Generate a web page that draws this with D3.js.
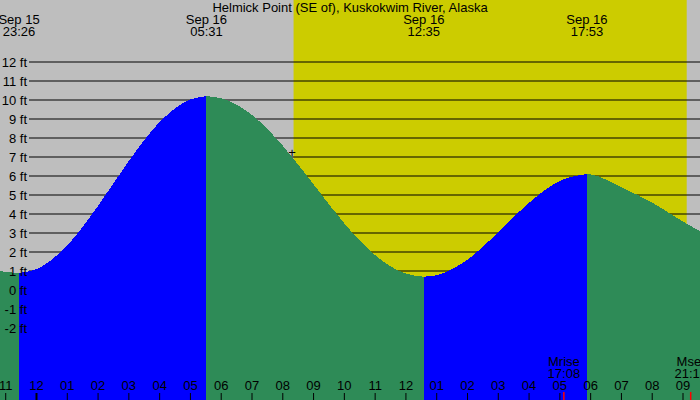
<!DOCTYPE html>
<html><head><meta charset="utf-8">
<script src="https://cdn.jsdelivr.net/npm/d3@7"></script>
<style>body{margin:0}svg{display:block;font-family:"Liberation Sans",Arial,sans-serif}</style>
</head><body><div id="chart"></div>
<script>
// hours counted from Sep 15 00:00
const title = 'Helmick Point (SE of), Kuskokwim River, Alaska';
const extremes = [
  {t: 23.43, h: 0.9, day: 'Sep 15', label: '23:26'},
  {t: 29.52, h: 10.2, day: 'Sep 16', label: '05:31'},
  {t: 36.58, h: 0.7, day: 'Sep 16', label: '12:35'},
  {t: 41.88, h: 6.1, day: 'Sep 16', label: '17:53'}
];
const tideT = [22.8, 23, 23.43, 24, 25, 26, 27, 28, 29, 29.52, 30, 31, 32, 33, 34, 35, 36, 36.58, 37, 38, 39, 40, 41, 41.88, 42, 43, 44, 45, 45.6];
const tideH = [1.0, 0.95, 0.9, 1.10, 2.35, 4.43, 6.79, 8.84, 10.03, 10.2, 10.09, 9.21, 7.59, 5.56, 3.50, 1.83, 0.86, 0.7, 0.78, 1.60, 3.04, 4.59, 5.74, 6.1, 6.08, 5.4, 4.6, 3.6, 3.05];
const sunrise = 32.35, sunset = 45.12;
const hourTicks = d3.range(23, 46);
const ftTicks = d3.range(-2, 13);
const moon = [{name: 'Mrise', t: 41.13, label: '17:08'}, {name: 'Mset', t: 45.25, label: '21:15'}];
const nowPoint = {t: 32.3, h: 7.2};

const width = 700, height = 400, fs = 13;
const x = d3.scaleLinear().domain([24, 45]).range([36.5, 683]);
const y = d3.scaleLinear().domain([0, 12]).range([290, 62]);

const svg = d3.select('#chart').append('svg').attr('width', width).attr('height', height);
svg.append('rect').attr('width', width).attr('height', height).attr('fill', '#bebebe');
svg.append('rect').attr('x', x(sunrise)).attr('y', 0)
  .attr('width', x(sunset) - x(sunrise)).attr('height', height).attr('fill', '#cccc00');

// grid lines
svg.append('g').selectAll('line').data(ftTicks).join('line')
  .attr('x1', 29).attr('x2', width).attr('y1', d => y(d)).attr('y2', d => y(d))
  .attr('stroke', '#000').attr('stroke-width', 1);

// tide areas, split at extremes: rising blue, falling green
const pts = tideT.map((t, i) => ({t, h: tideH[i]}));
const bounds = [tideT[0], ...extremes.map(e => e.t), tideT[tideT.length - 1]];
const area = d3.area().x(d => x(d.t)).y0(height).y1(d => y(d.h)).curve(d3.curveMonotoneX);
for (let i = 0; i < bounds.length - 1; i++) {
  const seg = pts.filter(p => p.t >= bounds[i] && p.t <= bounds[i + 1]);
  const rising = seg[seg.length - 1].h > seg[0].h;
  svg.append('path').datum(seg).attr('d', area)
    .attr('fill', rising ? '#0000ff' : '#2e8b57').attr('shape-rendering', 'crispEdges');
}

// ft labels
svg.append('g').selectAll('text').data(ftTicks).join('text')
  .attr('x', 27).attr('y', d => y(d) + 5).attr('text-anchor', 'end')
  .attr('font-size', fs).text(d => d + ' ft');

// title and extremes
svg.append('text').attr('x', 350).attr('y', 12).attr('text-anchor', 'middle')
  .attr('font-size', fs).text(title);
const ex = svg.append('g').selectAll('g').data(extremes).join('g')
  .attr('transform', d => 'translate(' + Math.max(19, x(d.t)) + ',0)');
ex.append('text').attr('y', 24).attr('text-anchor', 'middle').attr('font-size', fs).text(d => d.day);
ex.append('text').attr('y', 36).attr('text-anchor', 'middle').attr('font-size', fs).text(d => d.label);

// hour axis
const hrs = svg.append('g').selectAll('g').data(hourTicks).join('g')
  .attr('transform', d => 'translate(' + x(d) + ',0)');
hrs.append('line').attr('y1', 393).attr('y2', 400).attr('stroke', '#000')
  .attr('stroke-width', d => d % 24 === 0 ? 2 : 1);
hrs.append('text').attr('y', 390).attr('text-anchor', 'middle').attr('font-size', fs)
  .text(d => d3.format('02')(((d % 12) + 11) % 12 + 1));

// moon
const mg = svg.append('g').selectAll('g').data(moon).join('g')
  .attr('transform', d => 'translate(' + x(d.t) + ',0)');
mg.append('line').attr('y1', 392).attr('y2', 400).attr('stroke', '#ff0000').attr('stroke-width', 1.5);
mg.append('text').attr('y', 366).attr('text-anchor', 'middle').attr('font-size', fs).text(d => d.name);
mg.append('text').attr('y', 378).attr('text-anchor', 'middle').attr('font-size', fs).text(d => d.label);

// current time marker
svg.append('text').attr('x', x(nowPoint.t)).attr('y', y(nowPoint.h) + 4)
  .attr('text-anchor', 'middle').attr('font-size', fs).text('+');
</script></body></html>
